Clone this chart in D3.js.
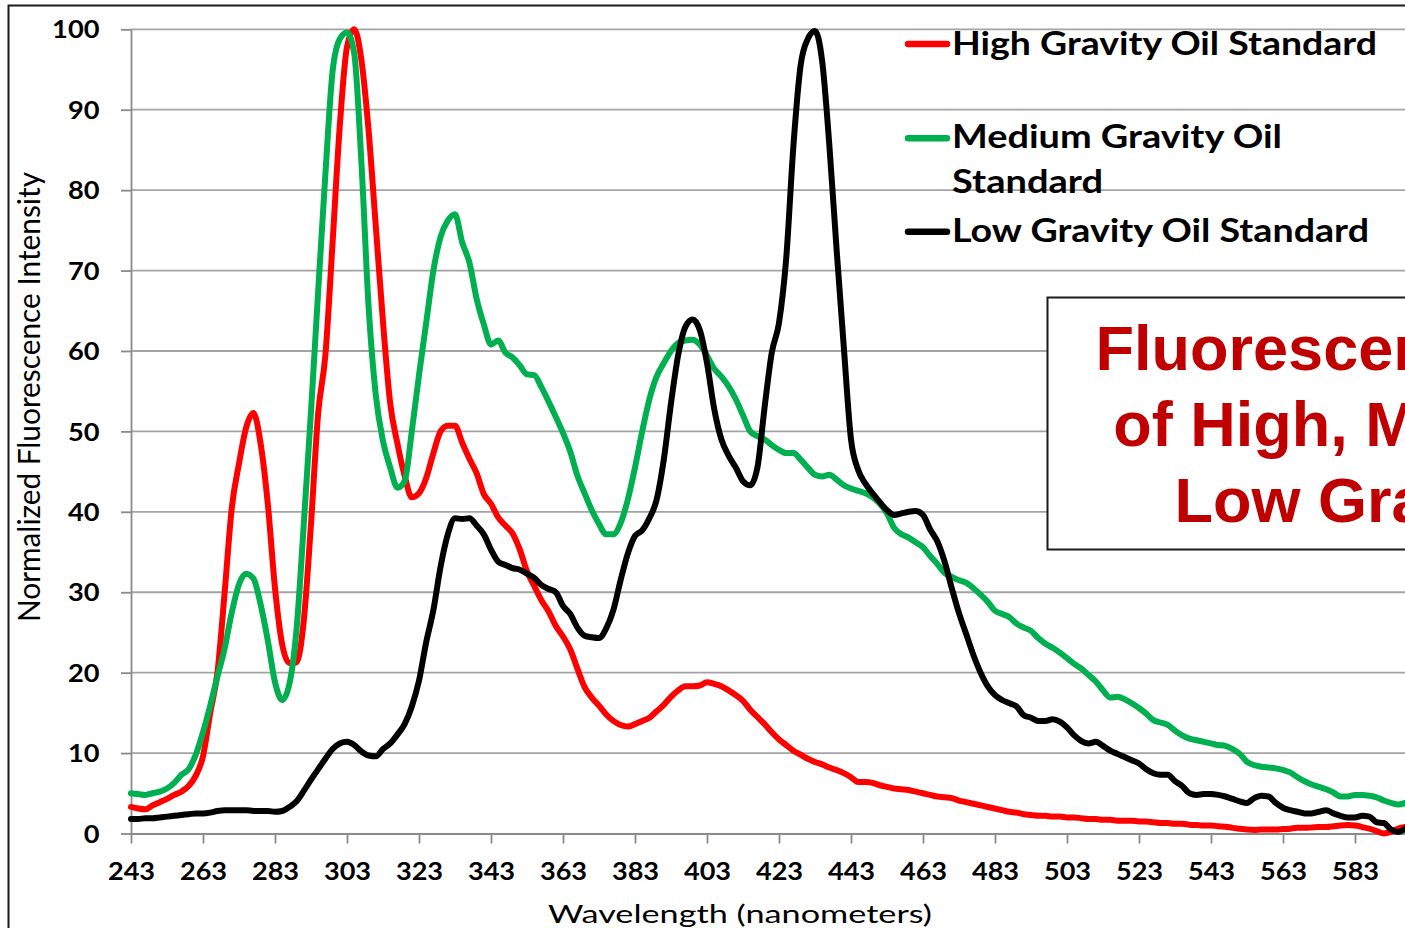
<!DOCTYPE html>
<html>
<head>
<meta charset="utf-8">
<script src="https://cdn.jsdelivr.net/npm/d3@7"></script>
<style>
  html, body { margin: 0; padding: 0; background: #ffffff; overflow: hidden; }
  svg { display: block; }
</style>
</head>
<body>
<script>
// ---------------- DATA ----------------
const wavelengths = [
  243,245,247,249,251,253,255,257,259,261,
  263,265,267,269,271,273,275,277,279,281,
  283,285,287,289,291,293,295,297,299,301,
  303,305,307,309,311,313,315,317,319,321,
  323,325,327,329,331,333,335,337,339,341,
  343,345,347,349,351,353,355,357,359,361,
  363,365,367,369,371,373,375,377,379,381,
  383,385,387,389,391,393,395,397,399,401,
  403,405,407,409,411,413,415,417,419,421,
  423,425,427,429,431,433,435,437,439,441,
  443,445,447,449,451,453,455,457,459,461,
  463,465,467,469,471,473,475,477,479,481,
  483,485,487,489,491,493,495,497,499,501,
  503,505,507,509,511,513,515,517,519,521,
  523,525,527,529,531,533,535,537,539,541,
  543,545,547,549,551,553,555,557,559,561,
  563,565,567,569,571,573,575,577,579,581,
  583,585,587,589,591,593,595,597
];

const highGravity = [
  3.3,3.1,3.0,3.5,3.9,4.3,4.8,5.2,5.9,7.2,
  9.6,15.0,20.0,29.9,40.5,46.0,50.5,52.3,48.5,41.0,
  30.5,23.5,21.2,21.3,26.5,38.5,52.3,59.5,73.5,88.0,
  97.8,100.0,96.2,87.4,75.5,63.6,53.5,48.5,44.5,41.8,
  42.3,44.2,47.3,50.0,50.7,50.7,48.6,46.6,44.8,42.2,
  41.0,39.3,38.3,37.3,35.3,32.6,30.8,29.0,27.6,25.8,
  24.5,22.9,20.5,18.2,16.9,15.9,14.8,14.0,13.5,13.3,
  13.6,14.0,14.4,15.2,16.0,17.0,17.8,18.3,18.3,18.4,
  18.8,18.6,18.3,17.8,17.2,16.5,15.4,14.5,13.6,12.6,
  11.7,11.0,10.3,9.8,9.3,8.9,8.6,8.2,7.9,7.5,
  7.0,6.4,6.4,6.3,6.0,5.8,5.6,5.5,5.4,5.2,
  5.0,4.8,4.6,4.5,4.4,4.1,3.9,3.7,3.5,3.3,
  3.1,2.9,2.7,2.6,2.4,2.3,2.2,2.2,2.1,2.1,
  2.0,2.0,1.9,1.8,1.8,1.7,1.7,1.6,1.6,1.6,
  1.5,1.5,1.4,1.3,1.3,1.2,1.2,1.1,1.05,1.0,
  1.0,0.9,0.85,0.7,0.6,0.5,0.45,0.5,0.5,0.5,
  0.55,0.6,0.7,0.7,0.75,0.8,0.8,0.9,1.0,1.05,
  1.0,0.8,0.6,0.3,0.0,0.2,0.6,0.8
];

const mediumGravity = [
  5.0,4.9,4.8,5.0,5.2,5.6,6.3,7.3,8.0,9.8,
  12.6,15.9,19.5,23.0,27.5,31.0,32.3,31.7,28.5,24.0,
  18.8,16.6,18.6,25.5,38.5,52.5,67.5,82.0,94.8,98.8,
  99.6,97.0,83.5,65.5,54.5,48.8,45.5,43.0,43.8,50.0,
  57.0,63.5,70.0,74.2,76.2,77.0,73.5,71.0,66.5,63.3,
  60.8,61.3,59.8,59.2,58.2,57.1,57.0,55.5,53.7,51.8,
  49.8,47.5,44.5,42.3,40.2,38.5,37.2,37.2,38.6,41.5,
  45.5,50.0,54.0,56.8,58.5,60.0,61.0,61.3,61.4,60.8,
  59.4,57.8,56.8,55.6,54.0,52.0,50.0,49.4,49.0,48.3,
  47.7,47.3,47.3,46.5,45.5,44.6,44.4,44.6,44.0,43.3,
  42.9,42.6,42.3,41.8,41.0,39.8,38.0,37.2,36.8,36.2,
  35.6,34.5,33.5,32.4,31.9,31.5,31.2,30.5,29.7,28.8,
  27.7,27.3,26.9,26.1,25.6,25.2,24.3,23.6,23.1,22.5,
  21.8,21.1,20.5,19.7,18.9,17.8,16.9,17.0,16.7,16.2,
  15.6,14.9,14.1,13.8,13.5,12.8,12.2,11.8,11.6,11.4,
  11.2,11.0,10.9,10.5,9.9,8.9,8.5,8.3,8.2,8.1,
  7.9,7.6,7.0,6.5,6.1,5.8,5.5,5.1,4.6,4.6,
  4.8,4.8,4.7,4.5,4.1,3.8,3.6,3.8
];

const lowGravity = [
  1.8,1.8,1.9,1.9,2.0,2.1,2.2,2.3,2.4,2.5,
  2.5,2.6,2.8,2.9,2.9,2.9,2.9,2.8,2.8,2.8,
  2.7,2.8,3.3,4.0,5.3,6.7,8.0,9.3,10.5,11.2,
  11.4,11.0,10.2,9.7,9.6,10.5,11.2,12.3,13.6,15.8,
  19.0,23.8,27.8,33.2,37.2,39.2,39.1,39.2,38.3,37.2,
  35.3,33.8,33.4,33.0,32.8,32.3,31.8,30.9,30.4,30.0,
  28.3,27.3,25.6,24.6,24.4,24.3,25.5,27.8,31.5,34.8,
  37.0,37.7,39.2,41.5,46.5,53.5,59.5,63.0,63.9,62.6,
  58.5,52.8,49.0,47.0,45.5,43.8,43.3,45.5,53.0,59.8,
  63.5,71.5,85.5,95.5,98.8,99.8,96.0,85.5,72.6,60.5,
  49.0,45.2,43.5,42.3,41.2,40.2,39.6,39.8,40.0,40.1,
  39.6,37.8,36.3,33.8,30.5,27.4,24.8,22.2,20.0,18.3,
  17.2,16.6,16.2,15.8,14.7,14.4,14.0,14.0,14.2,13.9,
  13.2,12.2,11.5,11.2,11.4,10.9,10.3,9.9,9.5,9.1,
  8.7,8.0,7.5,7.3,7.3,6.5,5.9,5.0,4.8,4.9,
  4.9,4.8,4.6,4.3,4.0,3.8,4.4,4.7,4.6,3.8,
  3.2,2.9,2.7,2.5,2.5,2.7,2.9,2.5,2.2,2.0,
  2.0,2.2,2.1,1.4,1.3,0.5,0.2,0.6
];

const xTickValues = [243,263,283,303,323,343,363,383,403,423,443,463,483,503,523,543,563,583];
const yTickValues = [0,10,20,30,40,50,60,70,80,90,100];

const seriesNames = ["High Gravity Oil Standard", "Medium Gravity Oil Standard", "Low Gravity Oil Standard"];
const titleLines = ["Fluorescence Spectra", "of High, Medium and", "Low Gravity Oils"];
const xAxisTitle = "Wavelength (nanometers)";
const yAxisTitle = "Normalized Fluorescence Intensity";

// ---------------- CHART ----------------
const W = 1405, H = 928;
const colors = ["#FF0000", "#00B050", "#000000"];
const seriesData = [highGravity, mediumGravity, lowGravity];

const svg = d3.select("body").append("svg")
  .attr("width", W).attr("height", H)
  .style("font-family", "Lato, 'Open Sans', sans-serif");

svg.append("rect").attr("width", W).attr("height", H).attr("fill", "#ffffff");

const x = d3.scaleLinear().domain([243, 603]).range([131, 1427]);
const y = d3.scaleLinear().domain([0, 100]).range([833.5, 29.3]);

// chart-area border (top & left visible)
svg.append("path")
  .attr("d", `M8.5,${H + 10} L8.5,5.5 L${W + 10},5.5`)
  .attr("fill", "none").attr("stroke", "#1a1a1a").attr("stroke-width", 2);

// gridlines
svg.append("g").selectAll("line")
  .data(yTickValues.filter(d => d > 0))
  .join("line")
  .attr("x1", x(243)).attr("x2", W + 5)
  .attr("y1", d => y(d)).attr("y2", d => y(d))
  .attr("stroke", "#a3a3a3").attr("stroke-width", 1.8);

function fit(sel, perChar) {
  sel.each(function(d) {
    const t = String(d);
    d3.select(this).attr("textLength", t.length * perChar).attr("lengthAdjust", "spacingAndGlyphs");
  });
}

// y axis
const yAxisG = svg.append("g").attr("transform", `translate(${x(243)},0)`)
  .call(d3.axisLeft(y).tickValues(yTickValues).tickSize(10).tickSizeOuter(0));
yAxisG.select(".domain").attr("stroke", "#8a8a8a").attr("stroke-width", 1.8);
yAxisG.selectAll(".tick line").attr("stroke", "#8a8a8a").attr("stroke-width", 1.8);
yAxisG.selectAll(".tick text")
  .attr("x", -31.5).attr("dy", "0.36em")
  .attr("font-family", "Lato, sans-serif").attr("font-weight", "bold")
  .attr("font-size", 24).attr("fill", "#000")
  .call(fit, 15.8);

// x axis
const xAxisG = svg.append("g").attr("transform", `translate(0,${y(0)})`)
  .call(d3.axisBottom(x).tickValues(xTickValues).tickSize(10).tickSizeOuter(0));
xAxisG.select(".domain").attr("stroke", "#8a8a8a").attr("stroke-width", 1.8);
xAxisG.selectAll(".tick line").attr("stroke", "#8a8a8a").attr("stroke-width", 1.8);
xAxisG.selectAll(".tick text")
  .attr("y", 46.5).attr("dy", "0")
  .attr("font-family", "Lato, sans-serif").attr("font-weight", "bold")
  .attr("font-size", 24).attr("fill", "#000")
  .call(fit, 15.7);

// series lines
const line = d3.line()
  .x((d, i) => x(wavelengths[i]))
  .y(d => y(d))
  .curve(d3.curveMonotoneX);

svg.append("g").selectAll("path")
  .data(seriesData)
  .join("path")
  .attr("d", d => line(d))
  .attr("fill", "none")
  .attr("stroke", (d, i) => colors[i])
  .attr("stroke-width", 6)
  .attr("stroke-linejoin", "round")
  .attr("stroke-linecap", "round");

// axis titles
svg.append("text")
  .attr("transform", "translate(39.5,397) rotate(-90)")
  .attr("text-anchor", "middle")
  .attr("font-family", "Lato, sans-serif")
  .attr("font-size", 30).attr("fill", "#000")
  .attr("textLength", 450).attr("lengthAdjust", "spacingAndGlyphs")
  .text(yAxisTitle);

svg.append("text")
  .attr("x", 740).attr("y", 922.7)
  .attr("text-anchor", "middle")
  .attr("font-family", "Lato, sans-serif")
  .attr("font-size", 25).attr("fill", "#000")
  .attr("textLength", 384).attr("lengthAdjust", "spacingAndGlyphs")
  .text(xAxisTitle);

// legend
const legendItems = [
  { color: colors[0], lineY: 44, lines: [{ t: "High Gravity Oil Standard", y: 55, w: 425 }] },
  { color: colors[1], lineY: 138.3, lines: [{ t: "Medium Gravity Oil", y: 148.3, w: 330 }, { t: "Standard", y: 193.3, w: 151 }] },
  { color: colors[2], lineY: 231.7, lines: [{ t: "Low Gravity Oil Standard", y: 241.7, w: 417 }] }
];
const lg = svg.append("g");
legendItems.forEach(item => {
  lg.append("line")
    .attr("x1", 908).attr("x2", 947)
    .attr("y1", item.lineY).attr("y2", item.lineY)
    .attr("stroke", item.color).attr("stroke-width", 6.5)
    .attr("stroke-linecap", "round");
  item.lines.forEach(l => {
    lg.append("text")
      .attr("x", 952).attr("y", l.y)
      .attr("font-family", "Lato, sans-serif").attr("font-weight", "bold")
      .attr("font-size", 32).attr("fill", "#000")
      .attr("textLength", l.w).attr("lengthAdjust", "spacingAndGlyphs")
      .text(l.t);
  });
});

// title box
const tb = svg.append("g");
tb.append("rect")
  .attr("x", 1047.5).attr("y", 297.5)
  .attr("width", 760).attr("height", 252)
  .attr("fill", "#ffffff").attr("stroke", "#1a1a1a").attr("stroke-width", 2);
const titleBaselines = [370, 446, 522];
titleLines.forEach((t, i) => {
  tb.append("text")
    .attr("x", 1423).attr("y", titleBaselines[i])
    .attr("text-anchor", "middle")
    .attr("font-family", "'Liberation Sans', Arial, sans-serif")
    .attr("font-weight", "bold")
    .attr("font-size", 63).attr("fill", "#C00000")
    .text(t);
});
</script>
</body>
</html>
